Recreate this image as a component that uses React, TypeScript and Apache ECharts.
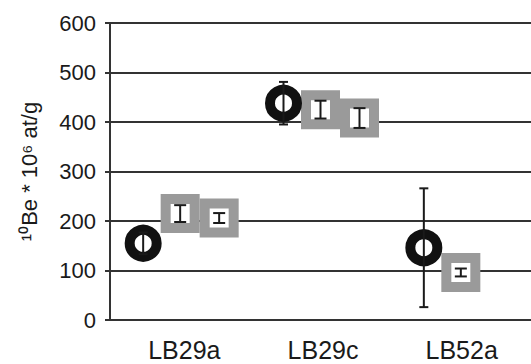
import React, { useEffect, useRef } from "react";
import * as echarts from "echarts";

const categories = ["LB29a", "LB29c", "LB52a"];
const yTicks = [0, 100, 200, 300, 400, 500, 600];
const circleValues: (number | null)[] = [155, 438, 146];
const circleErrors: (number | null)[] = [22, 43, 120];
const square1Values: (number | null)[] = [215, 425, 96];
const square1Errors: (number | null)[] = [17, 18, 8];
const square2Values: (number | null)[] = [206, 408, null];
const square2Errors: (number | null)[] = [10, 20, null];

const FONT = "Liberation Sans, Arial, sans-serif";

function points(vals: (number | null)[]) {
  const out: number[][] = [];
  vals.forEach((v, i) => {
    if (v != null) out.push([i, v]);
  });
  return out;
}
function errPoints(vals: (number | null)[], errs: (number | null)[]) {
  const out: number[][] = [];
  vals.forEach((v, i) => {
    if (v != null && errs[i] != null) out.push([i, v, errs[i] as number]);
  });
  return out;
}

function errorSeries(vals: (number | null)[], errs: (number | null)[], offset: number, cap: number) {
  return {
    type: "custom",
    xAxisIndex: 0,
    yAxisIndex: 0,
    z: 10,
    data: errPoints(vals, errs),
    renderItem: (params: any, api: any) => {
      const c = api.value(0);
      const v = api.value(1);
      const e = api.value(2);
      const top = api.coord([c, v + e]);
      const bot = api.coord([c, v - e]);
      const x = top[0] + offset;
      const style = { stroke: "#1a1a1a", lineWidth: 2 };
      return {
        type: "group",
        children: [
          { type: "line", shape: { x1: x, y1: top[1], x2: x, y2: bot[1] }, style },
          { type: "line", shape: { x1: x - cap, y1: top[1], x2: x + cap, y2: top[1] }, style },
          { type: "line", shape: { x1: x - cap, y1: bot[1], x2: x + cap, y2: bot[1] }, style },
        ],
      };
    },
  };
}

export default function App() {
  const ref = useRef<HTMLDivElement>(null);
  useEffect(() => {
    document.body.style.margin = "0";
    const chart = echarts.init(ref.current as HTMLDivElement, null, { renderer: "svg" });
    const circleOff = -37;
    const sq2Off = 39;
    chart.setOption({
      animation: false,
      backgroundColor: "#ffffff",
      grid: [
        { left: 110, top: 23, width: 452, height: 297 },
        { left: 115, top: 23, width: 417, height: 297 },
      ],
      xAxis: [
        {
          type: "category",
          gridIndex: 0,
          data: categories,
          boundaryGap: true,
          axisLine: { show: true, lineStyle: { color: "#333", width: 2 } },
          axisTick: { show: false },
          axisLabel: { show: false },
          splitLine: { show: false },
        },
        {
          type: "category",
          gridIndex: 1,
          data: categories,
          boundaryGap: true,
          axisLine: { show: false },
          axisTick: { show: false },
          axisLabel: {
            show: true,
            fontSize: 25,
            color: "#1a1a1a",
            fontFamily: FONT,
            margin: 17,
          },
          splitLine: { show: false },
        },
      ],
      yAxis: [
        {
          type: "value",
          gridIndex: 0,
          min: yTicks[0],
          max: yTicks[yTicks.length - 1],
          interval: 100,
          name: "¹⁰Be * 10⁶ at/g",
          nameLocation: "middle",
          nameGap: 70,
          nameTextStyle: { fontSize: 22, color: "#1a1a1a", fontFamily: FONT },
          axisLine: { show: true, lineStyle: { color: "#333", width: 2 } },
          axisTick: { show: true, length: 5, lineStyle: { color: "#333", width: 2 } },
          axisLabel: { fontSize: 22, color: "#1a1a1a", fontFamily: FONT, margin: 14 },
          splitLine: { show: true, lineStyle: { color: "#333", width: 2 } },
        },
        { type: "value", gridIndex: 1, show: false, min: 0, max: 1 },
      ],
      series: [
        {
          type: "scatter",
          xAxisIndex: 0,
          yAxisIndex: 0,
          data: points(square1Values),
          symbol: "rect",
          symbolSize: 29,
          itemStyle: { color: "#ffffff", borderColor: "#9a9a9a", borderWidth: 10, opacity: 1 },
          z: 3,
        },
        {
          type: "scatter",
          xAxisIndex: 0,
          yAxisIndex: 0,
          data: points(square2Values),
          symbol: "rect",
          symbolSize: 29,
          symbolOffset: [sq2Off, 0],
          itemStyle: { color: "#ffffff", borderColor: "#9a9a9a", borderWidth: 10, opacity: 1 },
          z: 4,
        },
        {
          type: "scatter",
          xAxisIndex: 0,
          yAxisIndex: 0,
          data: points(circleValues),
          symbol: "circle",
          symbolSize: 27,
          symbolOffset: [circleOff, 0],
          itemStyle: { color: "#ffffff", borderColor: "#111111", borderWidth: 10, opacity: 1 },
          z: 5,
        },
        errorSeries(circleValues, circleErrors, circleOff, 4.5),
        errorSeries(square1Values, square1Errors, 0, 6),
        errorSeries(square2Values, square2Errors, sq2Off, 6),
      ],
    });
    return () => chart.dispose();
  }, []);
  return (
    <div
      ref={ref}
      style={{ position: "absolute", left: 0, top: 0, width: 531, height: 364, background: "#fff" }}
    />
  );
}
